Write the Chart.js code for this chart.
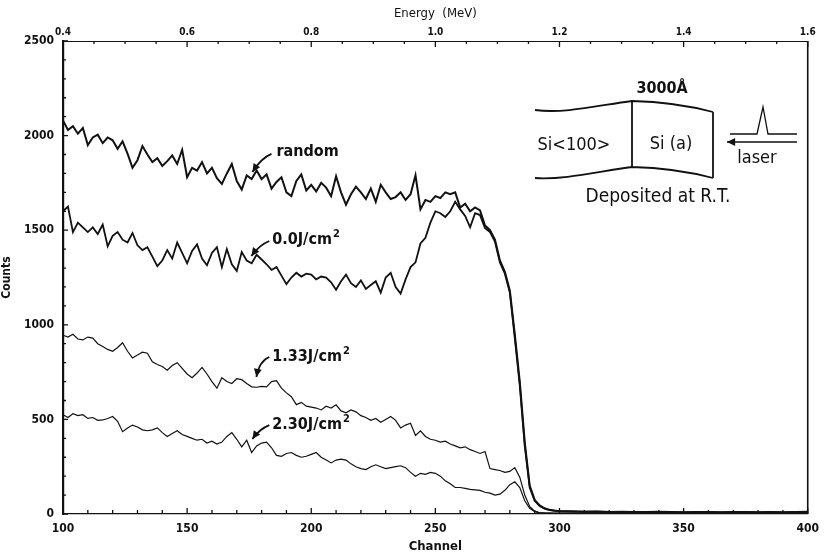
<!DOCTYPE html>
<html>
<head>
<meta charset="utf-8">
<script src="https://cdn.jsdelivr.net/npm/chart.js@4.4.1/dist/chart.umd.min.js"></script>
<style>
html, body { margin: 0; padding: 0; background: #fff; }
</style>
</head>
<body>
<canvas id="myChart" width="827" height="555"></canvas>
<script>
const FONT = "'DejaVu Sans Condensed', 'Liberation Sans Narrow', 'DejaVu Sans', sans-serif";

// channel grid: 100..300 every 2, then 305..400 every 5
let channels = [];
for (let c = 100; c <= 300; c += 2) channels.push(c);
for (let c = 305; c <= 400; c += 5) channels.push(c);

// counts
const randomCounts = [
    2080, 2030, 2050, 2010, 2040, 1950, 1990, 2005, 1960, 1990,
    1975, 1930, 1970, 1905, 1830, 1870, 1945, 1900, 1860, 1880,
    1840, 1865, 1895, 1850, 1925, 1780, 1830, 1815, 1860, 1800,
    1830, 1775, 1745, 1800, 1850, 1760, 1715, 1790, 1770, 1815,
    1770, 1795, 1720, 1755, 1780, 1700, 1680, 1760, 1795, 1710,
    1740, 1705, 1750, 1725, 1680, 1785, 1700, 1635, 1690, 1730,
    1700, 1665, 1720, 1650, 1740, 1700, 1665, 1675, 1700, 1660,
    1690, 1790, 1610, 1660, 1650, 1680, 1670, 1700, 1690, 1700,
    1620, 1640, 1600, 1620, 1605, 1525, 1500, 1450, 1340, 1280,
    1180, 950, 700, 380, 150, 75, 45, 30, 22, 18,
    15,
    14, 12, 13, 11, 12, 10, 11, 12, 10, 9, 11, 10, 9, 10, 11, 9, 10, 9, 10, 12
];
const j00Counts = [
    1600, 1625, 1490, 1540, 1515, 1490, 1515, 1480, 1530, 1415,
    1470, 1490, 1450, 1435, 1485, 1420, 1395, 1410, 1360, 1310,
    1340, 1395, 1350, 1435, 1380, 1325, 1390, 1425, 1350, 1315,
    1380, 1410, 1305, 1400, 1320, 1285, 1385, 1340, 1325, 1370,
    1345, 1320, 1290, 1305, 1260, 1215, 1250, 1275, 1255, 1270,
    1265, 1240, 1255, 1250, 1225, 1185, 1230, 1265, 1220, 1200,
    1235, 1190, 1210, 1230, 1170, 1250, 1275, 1200, 1165, 1240,
    1305, 1330, 1430, 1460, 1540, 1600, 1590, 1570, 1600, 1650,
    1610, 1575, 1515, 1590, 1580, 1510, 1490, 1440, 1330, 1270,
    1170, 930, 680, 360, 140, 70, 42, 28, 20, 17,
    15,
    13, 12, 12, 11, 11, 10, 11, 11, 10, 9, 10, 10, 9, 10, 10, 9, 10, 9, 10, 11
];
const j133Counts = [
    945, 935, 950, 925, 920, 935, 930, 900, 885, 870,
    860, 880, 905, 860, 825, 840, 855, 850, 805, 790,
    780, 760, 785, 800, 770, 740, 720, 745, 775, 740,
    700, 665, 720, 700, 690, 715, 710, 690, 672, 670,
    675, 672, 700, 705, 665, 640, 620, 578, 590, 570,
    565, 560, 550, 570, 560, 577, 545, 535, 550, 540,
    520, 510, 495, 505, 485, 500, 515, 495, 455, 470,
    480, 415, 440, 410, 395, 390, 380, 385, 370, 360,
    350, 355, 340, 330, 320, 330, 240, 235, 230, 220,
    225, 245, 195, 100, 40, 15, 8, 6, 5, 5,
    5,
    5, 4, 5, 4, 4, 5, 4, 4, 3, 4, 4, 3, 4, 4, 3, 4, 3, 4, 4, 3
];
const j230Counts = [
    525, 510, 530, 520, 525, 505, 510, 495, 497, 505,
    515, 490, 435, 455, 470, 460, 445, 440, 445, 455,
    430, 410, 425, 440, 420, 410, 400, 390, 395, 375,
    385, 370, 380, 410, 430, 395, 355, 390, 325, 360,
    375, 380, 350, 310, 305, 320, 325, 310, 300, 305,
    315, 325, 300, 285, 270, 285, 290, 285, 265, 250,
    240, 235, 250, 260, 250, 240, 245, 250, 255, 245,
    220, 200, 215, 210, 220, 215, 200, 175, 160, 140,
    140, 135, 130, 128, 125, 115, 110, 100, 105, 125,
    155, 170, 140, 70, 30, 12, 6, 5, 5, 4,
    4,
    4, 3, 4, 3, 3, 4, 3, 3, 3, 4, 3, 3, 3, 3, 3, 3, 3, 3, 3, 3
];

const seriesNames = ['random', '0.0 J/cm2', '1.33 J/cm2', '2.30 J/cm2'];
const seriesCounts = [randomCounts, j00Counts, j133Counts, j230Counts];
const seriesWidths = [2, 1.8, 1.2, 1.2];

function toPoints(counts) {
    return channels.map(function(c, i) { return {x: c, y: counts[i]}; });
}

let datasets = [];
seriesCounts.forEach(function(counts, i) {
    datasets.push({
        label: seriesNames[i],
        data: toPoints(counts),
        borderColor: '#111',
        borderWidth: seriesWidths[i],
        pointRadius: 0,
        fill: false,
        tension: 0
    });
});

// inward tick marks and the right frame line
const tickMarks = {
    id: 'tickMarks',
    afterDraw(chart) {
        const ctx = chart.ctx;
        const a = chart.chartArea;
        const xs = chart.scales.x, xt = chart.scales.xTop, ys = chart.scales.y;
        ctx.save();
        ctx.strokeStyle = '#111';
        ctx.lineWidth = 1.3;
        ctx.beginPath();
        xs.ticks.forEach(function(t) {
            const p = xs.getPixelForValue(t.value);
            ctx.moveTo(p, a.bottom);
            ctx.lineTo(p, a.bottom - (t.label ? 6 : 4));
        });
        xt.ticks.forEach(function(t) {
            const p = xt.getPixelForValue(t.value);
            ctx.moveTo(p, a.top);
            ctx.lineTo(p, a.top + (t.label ? 6 : 3));
        });
        ys.ticks.forEach(function(t) {
            const p = ys.getPixelForValue(t.value);
            ctx.moveTo(a.left, p);
            ctx.lineTo(a.left + (t.label ? 5 : 3), p);
        });
        ctx.stroke();
        ctx.lineWidth = 1.6;
        ctx.beginPath();
        ctx.moveTo(a.right, a.top);
        ctx.lineTo(a.right, a.bottom);
        ctx.stroke();
        ctx.restore();
    }
};

function arrow(ctx, x0, y0, cx, cy, x1, y1, size) {
    ctx.beginPath();
    ctx.moveTo(x0, y0);
    ctx.quadraticCurveTo(cx, cy, x1, y1);
    ctx.stroke();
    const ang = Math.atan2(y1 - cy, x1 - cx);
    ctx.beginPath();
    ctx.moveTo(x1, y1);
    ctx.lineTo(x1 - size * Math.cos(ang - 0.45), y1 - size * Math.sin(ang - 0.45));
    ctx.lineTo(x1 - size * Math.cos(ang + 0.45), y1 - size * Math.sin(ang + 0.45));
    ctx.closePath();
    ctx.fill();
}

// curve labels with arrows, placed in data units (channel, counts)
const notes = {
    id: 'notes',
    afterDraw(chart) {
        const ctx = chart.ctx;
        const xs = chart.scales.x, ys = chart.scales.y;
        const X = function(v) { return xs.getPixelForValue(v); };
        const Y = function(v) { return ys.getPixelForValue(v); };
        const list = [
            {text: 'random', sup: '', at: [186, 1913], from: [184, 1903], to: [176.3, 1808]},
            {text: '0.0J/cm', sup: '2', at: [184.3, 1448], from: [183.1, 1443], to: [175.9, 1364]},
            {text: '1.33J/cm', sup: '2', at: [184.3, 830], from: [183.1, 830], to: [177.9, 724]},
            {text: '2.30J/cm', sup: '2', at: [184.3, 470], from: [183.1, 470], to: [176.3, 396]}
        ];
        ctx.save();
        ctx.fillStyle = '#111';
        ctx.strokeStyle = '#111';
        ctx.lineWidth = 1.8;
        ctx.textBaseline = 'middle';
        list.forEach(function(n) {
            const tx = X(n.at[0]), ty = Y(n.at[1]);
            ctx.font = 'bold 16px ' + FONT;
            ctx.textAlign = 'left';
            ctx.fillText(n.text, tx, ty);
            if (n.sup) {
                const w = ctx.measureText(n.text).width;
                ctx.font = 'bold 11px ' + FONT;
                ctx.fillText(n.sup, tx + w + 1, ty - 6);
            }
            const x0 = X(n.from[0]), y0 = Y(n.from[1]);
            const x1 = X(n.to[0]), y1 = Y(n.to[1]);
            arrow(ctx, x0, y0, x0 - 10, y0 + 4, x1, y1, 9);
        });
        ctx.restore();
    }
};

// sample sketch in the upper right corner
const inset = {
    id: 'inset',
    afterDraw(chart) {
        const ctx = chart.ctx;
        ctx.save();
        ctx.strokeStyle = '#111';
        ctx.fillStyle = '#111';
        ctx.lineWidth = 1.8;
        ctx.beginPath();
        ctx.moveTo(535, 110);
        ctx.bezierCurveTo(565, 114, 600, 105, 632, 101);
        ctx.quadraticCurveTo(675, 102, 713, 112);
        ctx.moveTo(535, 178);
        ctx.bezierCurveTo(565, 180, 600, 171, 632, 167);
        ctx.quadraticCurveTo(675, 168, 713, 178);
        ctx.moveTo(632, 101);
        ctx.lineTo(632, 167);
        ctx.moveTo(713, 112);
        ctx.lineTo(713, 178);
        ctx.stroke();
        ctx.lineWidth = 1.3;
        ctx.beginPath();
        ctx.moveTo(730, 134);
        ctx.lineTo(757, 134);
        ctx.lineTo(763, 107);
        ctx.lineTo(768, 134);
        ctx.lineTo(797, 134);
        ctx.stroke();
        ctx.lineWidth = 1.6;
        arrow(ctx, 797, 142, 760, 142, 727, 142, 9);
        ctx.textAlign = 'center';
        ctx.textBaseline = 'middle';
        ctx.font = 'bold 16px ' + FONT;
        ctx.fillText('3000Å', 662, 89);
        ctx.font = '18px ' + FONT;
        ctx.fillText('Si<100>', 574, 145);
        ctx.fillText('Si (a)', 671, 144);
        ctx.fillText('laser', 757, 158);
        ctx.font = '19px ' + FONT;
        ctx.fillText('Deposited at R.T.', 658, 197);
        ctx.restore();
    }
};

const tickFont = {family: FONT, size: 12, weight: 'bold'};

let config = {
    type: 'line',
    data: {datasets: datasets},
    options: {
        responsive: false,
        animation: false,
        layout: {padding: {left: 0, right: 17, top: 0, bottom: 0}},
        plugins: {legend: {display: false}, tooltip: {enabled: false}},
        scales: {
            x: {
                type: 'linear', position: 'bottom', min: 100, max: 400,
                grid: {display: false, drawTicks: false},
                border: {display: true, color: '#111', width: 1.3},
                ticks: {
                    stepSize: 10, padding: 8, color: '#111', font: tickFont, maxRotation: 0, autoSkip: false,
                    callback: function(v) { return v % 50 === 0 ? String(v) : ''; }
                },
                title: {display: true, text: 'Channel', color: '#111', font: {family: FONT, size: 13, weight: 'bold'}, padding: {top: 0, bottom: 1}},
                afterFit: function(s) { s.height = 41; }
            },
            xTop: {
                type: 'linear', position: 'top', min: 0.4, max: 1.6,
                grid: {display: false, drawTicks: false},
                border: {display: true, color: '#111', width: 1},
                ticks: {
                    stepSize: 0.05, padding: 3, color: '#111', font: {family: FONT, size: 10, weight: 'bold'}, maxRotation: 0, autoSkip: false,
                    callback: function(v) { return Math.round(v * 100) % 20 === 0 ? v.toFixed(1) : ''; }
                },
                title: {display: true, text: 'Energy  (MeV)', color: '#111', font: {family: FONT, size: 13}, padding: {top: 6, bottom: 0}},
                afterFit: function(s) { s.height = 41; }
            },
            y: {
                type: 'linear', position: 'left', min: 0, max: 2500,
                grid: {display: false, drawTicks: false},
                border: {display: true, color: '#111', width: 2.2},
                ticks: {
                    stepSize: 100, padding: 9, color: '#111', font: tickFont, autoSkip: false,
                    callback: function(v) { return v % 500 === 0 ? String(v) : ''; }
                },
                title: {display: true, text: 'Counts', color: '#111', font: {family: FONT, size: 12, weight: 'bold'}, padding: {top: 0, bottom: 4}},
                afterFit: function(s) { s.width = 63; }
            }
        }
    },
    plugins: [tickMarks, notes, inset]
};

let myChart = new Chart(document.getElementById('myChart'), config);
</script>
</body>
</html>
